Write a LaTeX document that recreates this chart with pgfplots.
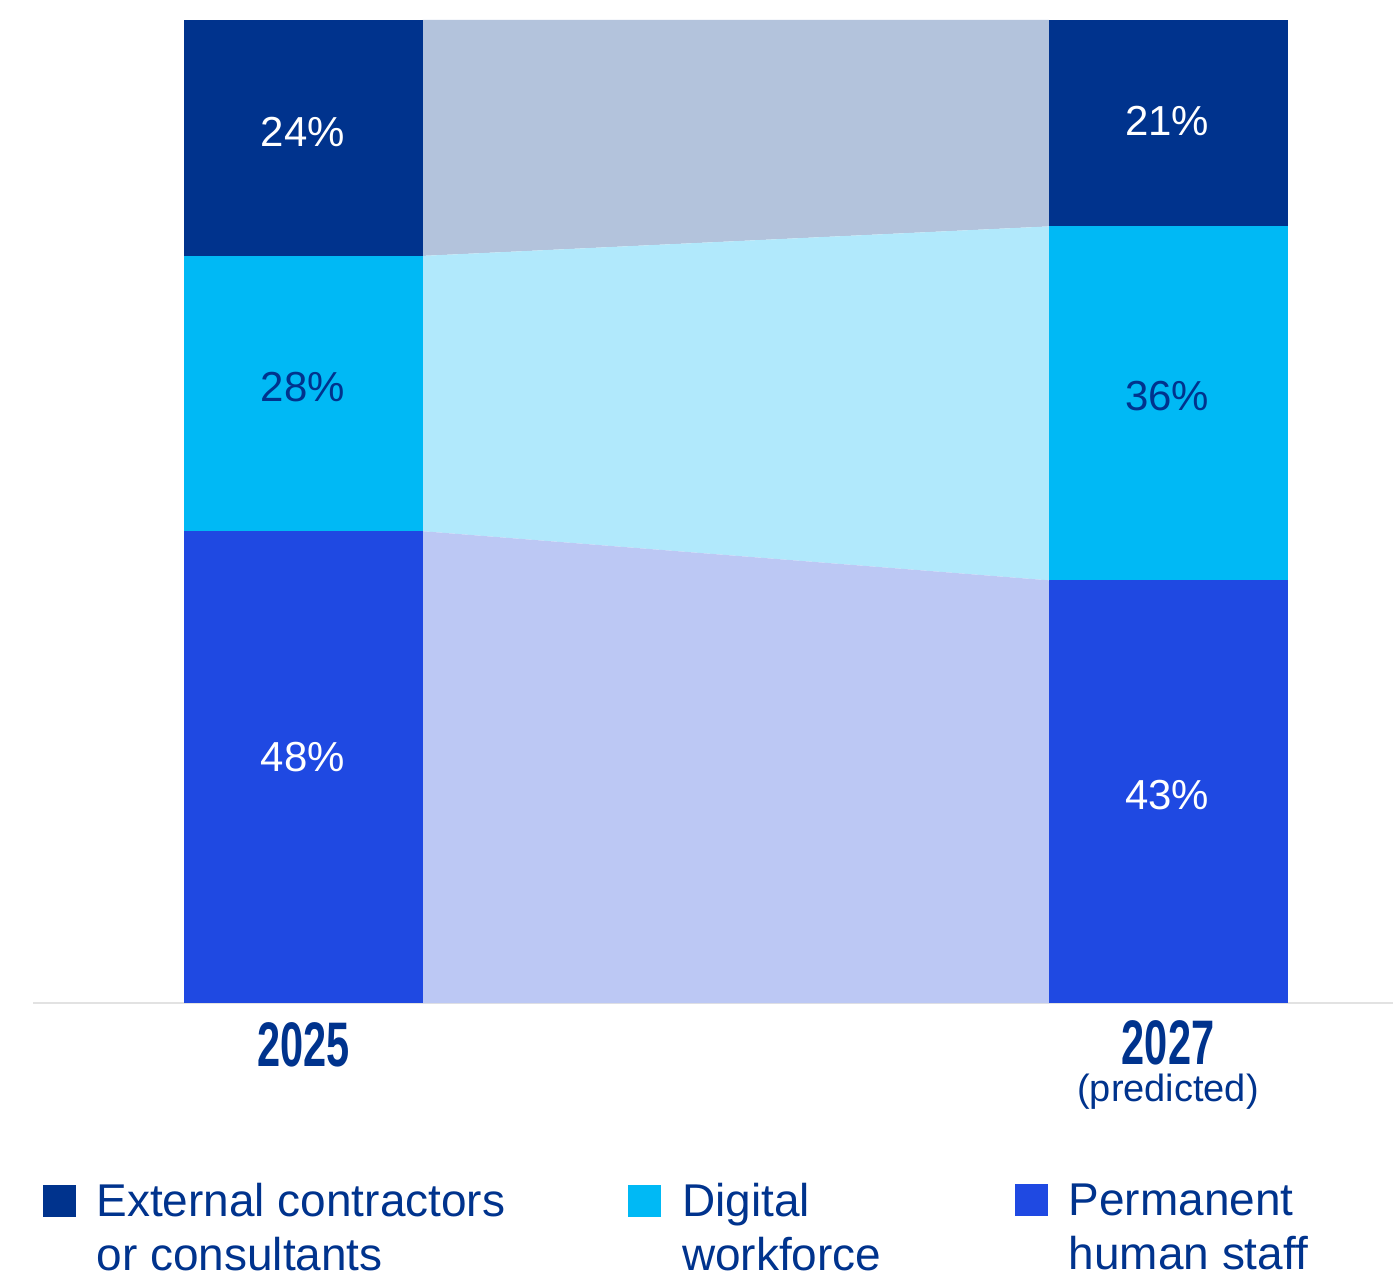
\documentclass[border=0pt]{standalone}
\usepackage{fontspec}
\setmainfont{Liberation Sans}
\usepackage{graphicx}
\usepackage{pgfplots}
\pgfplotsset{compat=1.18}

\definecolor{navy}{HTML}{00338D}
\definecolor{cyanbar}{HTML}{00B9F5}
\definecolor{bluebar}{HTML}{1F49E2}
\definecolor{bandtop}{HTML}{B3C3DC}
\definecolor{bandmid}{HTML}{B1E9FC}
\definecolor{bandbot}{HTML}{BCC8F4}
\definecolor{axisgray}{HTML}{E2E2E2}

\tikzset{
    pct/.style={anchor=base, inner sep=0pt, font=\fontsize{12.6}{15}\selectfont},
    leg/.style={anchor=base west, inner sep=0pt, text=navy, font=\fontsize{13.8}{16}\selectfont},
}

\begin{document}
\begin{tikzpicture}
\begin{axis}[
    scale only axis,
    width=408.3pt, height=295.2pt,
    xmin=33, xmax=1394, ymin=0, ymax=100,
    axis x line=bottom, axis y line=none,
    x axis line style={-, draw=axisgray, line width=0.7pt},
    xtick=\empty, ytick=\empty,
    clip=false,
]
% connecting bands between 2025 and 2027
\addplot[fill=bandtop, draw=none] coordinates {(423,76) (1050,79) (1050,100) (423,100)};
\addplot[fill=bandmid, draw=none] coordinates {(423,48) (1050,43) (1050,79) (423,76)};
\addplot[fill=bandbot, draw=none] coordinates {(423,0) (1050,0) (1050,43) (423,48)};

% 2025 bar: 48 / 28 / 24
\addplot[fill=bluebar, draw=none] coordinates {(184,0) (423,0) (423,48) (184,48)};
\addplot[fill=cyanbar, draw=none] coordinates {(184,48) (423,48) (423,76) (184,76)};
\addplot[fill=navy, draw=none] coordinates {(184,76) (423,76) (423,100) (184,100)};

% 2027 bar: 43 / 36 / 21
\addplot[fill=bluebar, draw=none] coordinates {(1050,0) (1289,0) (1289,43) (1050,43)};
\addplot[fill=cyanbar, draw=none] coordinates {(1050,43) (1289,43) (1289,79) (1050,79)};
\addplot[fill=navy, draw=none] coordinates {(1050,79) (1289,79) (1289,100) (1050,100)};

% value labels
\node[pct, text=white] at (axis cs:303,87.09) {24\%};
\node[pct, text=navy]  at (axis cs:303,61.18) {28\%};
\node[pct, text=white] at (axis cs:303,23.58) {48\%};
\node[pct, text=white] at (axis cs:1168,88.21) {21\%};
\node[pct, text=navy]  at (axis cs:1168,60.26) {36\%};
\node[pct, text=white] at (axis cs:1168,19.72) {43\%};

% category labels
\node[anchor=base, inner sep=0pt, text=navy, font=\fontsize{18.9}{20}\selectfont\bfseries]
    at (axis cs:304,-6.40) {\scalebox{0.66}[1]{2025}};
\node[anchor=base, inner sep=0pt, text=navy, font=\fontsize{18.9}{20}\selectfont\bfseries]
    at (axis cs:1169,-6.20) {\scalebox{0.66}[1]{2027}};
\node[anchor=base, inner sep=0pt, text=navy, font=\fontsize{11.4}{13}\selectfont]
    at (axis cs:1169,-10.05) {(predicted)};

% legend
\fill[navy]    (axis cs:43,-18.50) rectangle (axis cs:76,-21.75);
\fill[cyanbar] (axis cs:629,-18.50) rectangle (axis cs:662,-21.75);
\fill[bluebar] (axis cs:1016,-18.39) rectangle (axis cs:1049,-21.65);
\node[leg] at (axis cs:96,-21.75) {External contractors};
\node[leg] at (axis cs:96,-27.20) {or consultants};
\node[leg] at (axis cs:682,-21.75) {Digital};
\node[leg] at (axis cs:682,-27.20) {workforce};
\node[leg] at (axis cs:1069,-21.65) {Permanent};
\node[leg] at (axis cs:1069,-27.10) {human staff};

% picture extent
\path (axis cs:0,102.03) rectangle (axis cs:1394,-27.70);
\end{axis}
\end{tikzpicture}
\end{document}
